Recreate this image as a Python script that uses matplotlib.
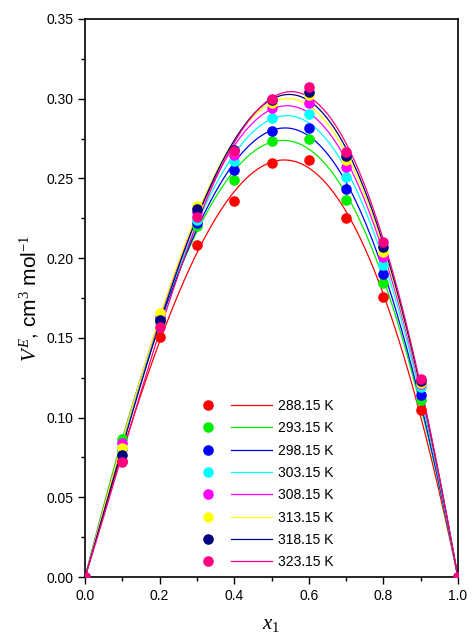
import numpy as np
import matplotlib
matplotlib.use("Agg")
import matplotlib.pyplot as plt
from matplotlib.legend_handler import HandlerTuple
from matplotlib.ticker import MultipleLocator

plt.rcParams['font.family'] = ['Liberation Sans', 'DejaVu Sans']
plt.rcParams['mathtext.fontset'] = 'custom'
plt.rcParams['mathtext.rm'] = 'Liberation Serif'
plt.rcParams['mathtext.it'] = 'Liberation Serif:italic'

# mole fraction x1
x1 = [0.0, 0.1, 0.2, 0.3, 0.4, 0.5, 0.6, 0.7, 0.8, 0.9, 1.0]

# excess molar volume, cm3 mol-1
ve_28815 = [0, 0.073, 0.1508, 0.2083, 0.236, 0.2599, 0.2616, 0.2254, 0.1757, 0.1048, 0]
ve_29315 = [0, 0.0864, 0.160, 0.220, 0.249, 0.2735, 0.2748, 0.2365, 0.1842, 0.111, 0]
ve_29815 = [0, 0.080, 0.161, 0.222, 0.255, 0.280, 0.2819, 0.2434, 0.1899, 0.114, 0]
ve_30315 = [0, 0.081, 0.162, 0.224, 0.261, 0.2878, 0.2905, 0.2511, 0.1957, 0.119, 0]
ve_30815 = [0, 0.0839, 0.163, 0.229, 0.265, 0.294, 0.2976, 0.257, 0.2006, 0.121, 0]
ve_31315 = [0, 0.0807, 0.1654, 0.233, 0.267, 0.297, 0.3024, 0.2616, 0.2041, 0.122, 0]
ve_31815 = [0, 0.0765, 0.1612, 0.231, 0.268, 0.299, 0.3045, 0.2643, 0.2072, 0.123, 0]
ve_32315 = [0, 0.0723, 0.157, 0.226, 0.267, 0.2997, 0.3076, 0.2668, 0.2104, 0.124, 0]

labels = ['288.15 K', '293.15 K', '298.15 K', '303.15 K',
          '308.15 K', '313.15 K', '318.15 K', '323.15 K']
colors = ['#FF0000', '#00EE00', '#0000FF', '#00FFFF',
          '#FF00FF', '#FFFF00', '#000080', '#FF0080']
series = [ve_28815, ve_29315, ve_29815, ve_30315,
          ve_30815, ve_31315, ve_31815, ve_32315]


# Redlich-Kister fit of each isotherm
def rk_fit(x, y, n=3):
    x = np.asarray(x)
    y = np.asarray(y)
    A = np.column_stack([x * (1 - x) * (2 * x - 1) ** k for k in range(n)])
    coef, *_ = np.linalg.lstsq(A, y, rcond=None)
    return coef


def rk_eval(coef, x):
    return sum(c * x * (1 - x) * (2 * x - 1) ** k for k, c in enumerate(coef))


fig = plt.figure(figsize=(4.73, 6.44), dpi=100)
ax = fig.add_axes([0.18, 0.104, 0.788, 0.8665])

xs = np.linspace(0, 1, 300)
handles = []
for ve, c, lab in zip(series, colors, labels):
    coef = rk_fit(x1, ve)
    ln, = ax.plot(xs, rk_eval(coef, xs), color=c, lw=0.9, zorder=2)
    pt, = ax.plot(x1, ve, 'o', color=c, ms=6.6, mec=c, ls='none', zorder=3)
    handles.append((pt, ln))

ax.set_xlim(0, 1.0)
ax.set_ylim(0, 0.35)
ax.xaxis.set_major_locator(MultipleLocator(0.2))
ax.xaxis.set_minor_locator(MultipleLocator(0.1))
ax.yaxis.set_major_locator(MultipleLocator(0.05))
ax.yaxis.set_minor_locator(MultipleLocator(0.025))
ax.xaxis.set_major_formatter(plt.FormatStrFormatter('%.1f'))
ax.yaxis.set_major_formatter(plt.FormatStrFormatter('%.2f'))
ax.tick_params(which='both', direction='out', top=False, right=False, labelsize=10)
ax.tick_params(which='major', length=5, width=1)
ax.tick_params(which='minor', length=3, width=1)
for s in ax.spines.values():
    s.set_linewidth(1.2)

ax.set_xlabel(r'$x_{1}$', fontsize=15, labelpad=9)
ax.set_ylabel(r'$V^{E}$, cm$^{3}$ mol$^{-1}$', fontsize=15, labelpad=4)

ax.legend(handles, labels, handler_map={tuple: HandlerTuple(ndivide=None, pad=0.18)},
          loc='upper left', bbox_to_anchor=(0.370, 0.400), bbox_transform=fig.transFigure,
          frameon=False, fontsize=10, handlelength=6.1, handletextpad=0.43,
          labelspacing=0.6)

fig.savefig('out.png', dpi=100)
